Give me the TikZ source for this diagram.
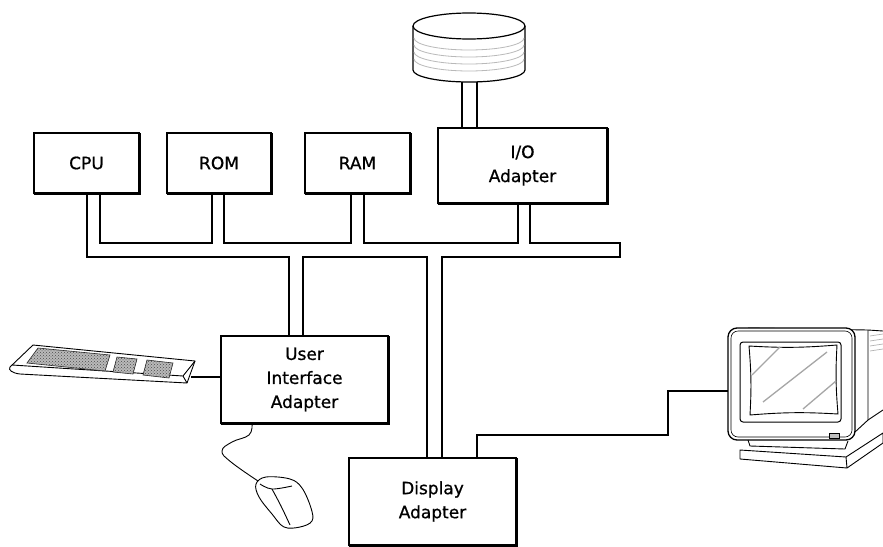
\documentclass[tikz,border=0pt]{standalone}
\usepackage{fontspec}
\setmainfont[FakeBold=0.8]{DejaVu Sans}
\usetikzlibrary{patterns}
\begin{document}
\begin{tikzpicture}[x=1pt,y=-1pt,
  box/.style={draw, line width=1.6pt, align=center, inner sep=0pt,
    font=\fontsize{17}{24}\selectfont},
  bus/.style={line width=1.3pt, line join=miter},
  cable/.style={line width=1.2pt, line join=miter},
  sketch/.style={line width=0.9pt, line join=round},
  keys/.style={fill=gray!55, draw=gray!30!black, line width=0.6pt}]
\useasboundingbox (0,0) rectangle (883,546);

% ---------- boxes ----------
\node[box, minimum width=105, minimum height=60] (cpu) at (86.5,163) {CPU};
\node[box, minimum width=104, minimum height=60] (rom) at (219,163) {ROM};
\node[box, minimum width=105, minimum height=60] (ram) at (357.5,163) {RAM};
\node[box, minimum width=169, minimum height=75] (io) at (522.5,165.5) {I/O\\Adapter};
\node[box, minimum width=167, minimum height=87] (ui) at (304.5,379.5) {User\\Interface\\Adapter};
\node[box, minimum width=167, minimum height=87] (disp) at (432.5,501.5) {Display\\Adapter};
\foreach \n in {cpu,rom,ram,io,ui,disp}
  \draw[line width=1.1pt] ([shift={(0.5,1)}]\n.south west) -- ([shift={(1,1)}]\n.south east) -- ([shift={(1,0.5)}]\n.north east);

% ---------- disk ----------
\draw[line width=1.2pt, fill=white] (413,26) -- (413,70) arc[start angle=180, end angle=0, x radius=56, y radius=12] -- (525,26);
\foreach \yy in {38,45,52,59}
  \draw[gray!55, line width=0.8pt] (414,\yy) arc[start angle=180, end angle=0, x radius=55, y radius=12];
\draw[line width=1.2pt] (469,26) ellipse[x radius=56, y radius=13];
\node[inner sep=0pt, outer sep=0pt, minimum width=112, minimum height=69] (disk) at (469,47.5) {};

% ---------- bus ----------
\draw[bus] (462,0 |- disk.south) -- (462,0 |- io.north);
\draw[bus] (477,0 |- disk.south) -- (477,0 |- io.north);
\draw[bus] (87,0 |- cpu.south) |- (289,257) -- (289,0 |- ui.north);
\draw[bus] (100,0 |- cpu.south) |- (212,243) -- (212,0 |- rom.south);
\draw[bus] (224,0 |- rom.south) |- (351,243) -- (351,0 |- ram.south);
\draw[bus] (364,0 |- ram.south) |- (518,243) -- (518,0 |- io.south);
\draw[bus] (530,0 |- io.south) |- (620,243) |- (442,257) -- (442,0 |- disp.north);
\draw[bus] (303,0 |- ui.north) |- (427,257) -- (427,0 |- disp.north);

% ---------- keyboard ----------
\coordinate (kbd) at (191,377);
\draw[sketch, fill=white] (33,345) -- (195,361) -- (187,383) -- (20,374) .. controls (12,373) and (8,370) .. (10,367) -- cycle;
\draw[sketch] (12,365) -- (183,376) -- (195,361);
\draw[sketch] (183,376) -- (187,383);
\foreach \p in {{(38,348) -- (110,355) -- (105,371) -- (27,363) -- cycle},
                {(117,357) -- (137,359) -- (133,374) -- (113,372) -- cycle},
                {(147,360) -- (173,363) -- (169,378) -- (143,375) -- cycle}}{
  \draw[keys] \p;
  \fill[pattern=crosshatch dots, pattern color=black!70] \p;
}
\draw[cable] (kbd) -- (kbd -| ui.west);

% ---------- mouse ----------
\draw[sketch] plot[smooth, tension=0.7] coordinates {(252,424) (249,435) (232,442) (222,451) (231,462) (258,481)};
\draw[sketch, fill=white] plot[smooth cycle, tension=0.6] coordinates {(256,484) (266,477) (290,479) (302,488) (311,508) (312,521) (300,527) (284,527) (272,514) (259,497)};
\draw[sketch] plot[smooth, tension=0.6] coordinates {(260,484) (272,489) (292,486)};
\draw[sketch] plot[smooth, tension=0.6] coordinates {(272,489) (281,506) (290,525)};

% ---------- monitor ----------
\coordinate (mon) at (728,391);
\draw[sketch] (748,328) -- (868,330) -- (883,331);
\draw[sketch] (868,330) -- (868,420) -- (855,432);
\draw[sketch] (868,420) -- (883,410);
\foreach \yy in {336,341,346,351}
  \draw[gray!60, line width=0.7pt] (870,\yy) -- (883,\yy-2);
\draw[line width=1.3pt, fill=white, rounded corners=9pt] (728,328) rectangle (855,440);
\draw[line width=0.6pt, rounded corners=7pt] (731,331) rectangle (852,437);
\draw[line width=1pt, rounded corners=3pt] (740,342) rectangle (841,422);
\draw[line width=0.9pt] (749,346) to[bend right=4] (837,345) to[bend right=4] (838,414) to[bend right=4] (750,415) to[bend right=4] cycle;
\draw[gray!70, line width=1.3pt] (752,375) -- (780,347);
\draw[gray!70, line width=1.3pt] (763,402) -- (827,352);
\draw[gray!70, line width=1.3pt] (803,409) -- (836,381);
\draw[fill=gray!50, line width=0.5pt] (829,433) rectangle (839,438);
\draw[sketch] (748,440) -- (750,446) -- (845,449) -- (848,441);
\draw[sketch, fill=white] (740,450) -- (846,457) -- (883,433) -- (883,443) -- (847,468) -- (740,459) -- cycle;
\draw[sketch] (846,457) -- (847,468);
\draw[cable] (477,0 |- disp.north) |- (668,435) |- (mon);
\end{tikzpicture}
\end{document}
